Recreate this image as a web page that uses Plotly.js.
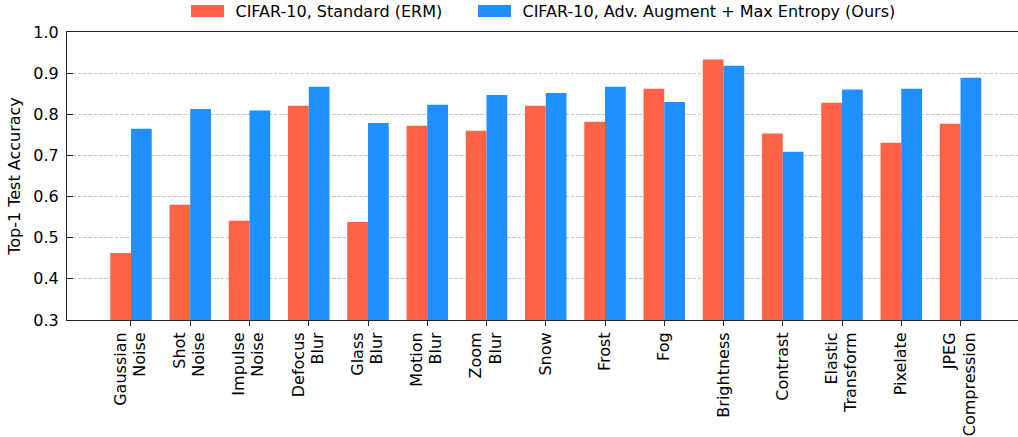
<!DOCTYPE html>
<html>
<head>
<meta charset="utf-8">
<script src="https://cdn.plot.ly/plotly-3.0.1.min.js"></script>
<style>html,body{margin:0;padding:0;background:#fff;}#chart{width:1018px;height:437px;}</style>
</head>
<body>
<div id="chart"></div>
<script>
const categories = ["Gaussian<br>Noise","Shot<br>Noise","Impulse<br>Noise","Defocus<br>Blur","Glass<br>Blur","Motion<br>Blur","Zoom<br>Blur","Snow","Frost","Fog","Brightness","Contrast","Elastic<br>Transform","Pixelate","JPEG<br>Compression"];
const standardERM = [0.463,0.580,0.541,0.821,0.538,0.772,0.760,0.821,0.782,0.862,0.933,0.753,0.828,0.731,0.777];
const oursMaxEnt  = [0.765,0.813,0.809,0.867,0.779,0.823,0.847,0.852,0.867,0.830,0.918,0.709,0.860,0.862,0.889];
const seriesNames = ["CIFAR-10, Standard (ERM)","CIFAR-10, Adv. Augment + Max Entropy (Ours)"];
const yTicks = [0.3,0.4,0.5,0.6,0.7,0.8,0.9,1.0];

const idx = categories.map((_, i) => i);
const font = {family: "DejaVu Sans, sans-serif", size: 16, color: "#000"};

const traces = [
  {type: "bar", name: seriesNames[0], x: idx, y: standardERM, marker: {color: "#FF6347"}},
  {type: "bar", name: seriesNames[1], x: idx, y: oursMaxEnt, marker: {color: "#1E90FF"}}
];

const layout = {
  width: 1018, height: 437,
  margin: {l: 67, r: 0, t: 32, b: 117},
  paper_bgcolor: "#fff", plot_bgcolor: "#fff",
  font: font,
  barmode: "group", bargap: 0.3, bargroupgap: 0,
  showlegend: true,
  legend: {orientation: "h", x: 0.1763, xanchor: "left", xref: "container",
           y: 0.9748, yanchor: "middle", yref: "container",
           font: font, bgcolor: "rgba(0,0,0,0)", itemwidth: 46,
           entrywidth: 226, entrywidthmode: "pixels"},
  xaxis: {
    range: [-1.08, 14.97], tickmode: "array", tickvals: idx, ticktext: categories,
    tickangle: -90, ticks: "outside", ticklen: 5, tickcolor: "#222", tickwidth: 1,
    showline: true, linecolor: "#222", linewidth: 1, mirror: true,
    showgrid: false, zeroline: false, tickfont: font
  },
  yaxis: {
    range: [0.3, 1.0], tickmode: "array", tickvals: yTicks, tickformat: ".1f",
    ticks: "inside", ticklen: 6, tickcolor: "#222", tickwidth: 1, ticklabelstandoff: 4,
    showline: true, linecolor: "#222", linewidth: 1, mirror: false,
    showgrid: true, gridcolor: "#c8c8c8", griddash: "3.7px,1.6px", gridwidth: 1,
    zeroline: false, tickfont: font,
    title: {text: "Top-1 Test Accuracy", font: font, standoff: 8}
  }
};

function fixup() {
  const root = document.getElementById("chart");
  root.querySelectorAll("g.legendpoints path").forEach(p => {
    p.setAttribute("d", "M16.5,6H-16.5V-6H16.5Z");
  });
  root.querySelectorAll(".legend [clip-path]").forEach(el => el.removeAttribute("clip-path"));
  root.querySelectorAll(".xtick text tspan.line").forEach(t => {
    const dy = t.getAttribute("dy");
    if (dy && /em$/.test(dy) && t.getAttribute("data-fixed") !== "1") {
      const v = parseFloat(dy);
      if (v > 0) { t.setAttribute("dy", (v * 1.2 / 1.3) + "em"); }
      t.setAttribute("data-fixed", "1");
    }
  });
}

Plotly.newPlot("chart", traces, layout, {staticPlot: true, displayModeBar: false}).then(gd => {
  fixup();
  gd.on("plotly_afterplot", fixup);
  setTimeout(fixup, 0);
  setTimeout(fixup, 100);
  setTimeout(fixup, 400);
});
</script>
</body>
</html>
